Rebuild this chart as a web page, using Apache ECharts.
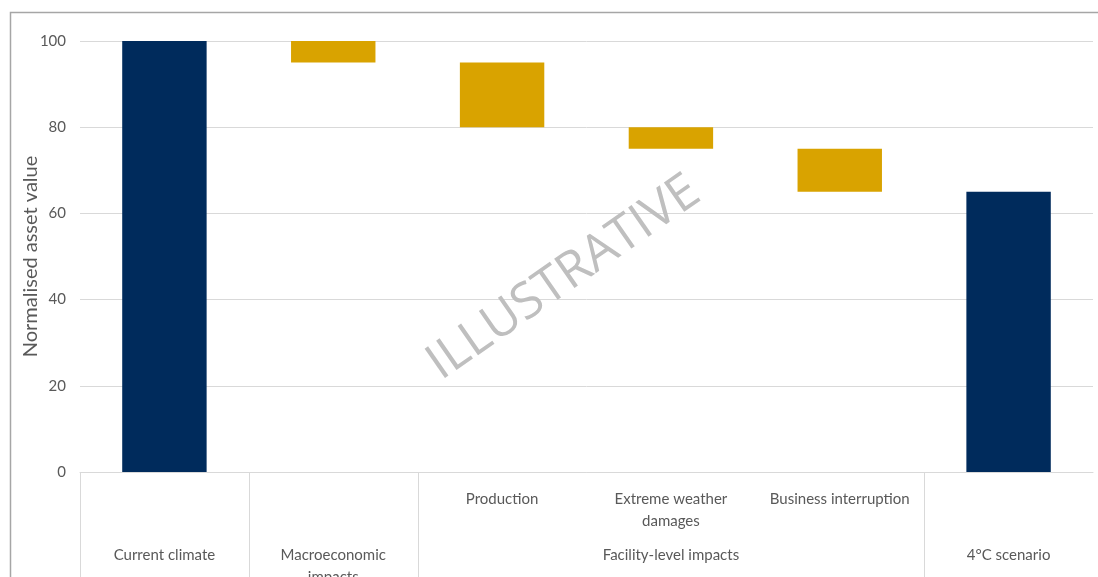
<!DOCTYPE html>
<html><head><meta charset="utf-8">
<script src="https://cdn.jsdelivr.net/npm/echarts@6/dist/echarts.min.js"></script>
<style>html,body{margin:0;padding:0;background:#fff}#c{width:1098px;height:577px}</style>
</head><body><div id="c"></div>
<script>
var categories = ['Current climate','Macroeconomic impacts','Production','Extreme weather damages','Business interruption','4°C scenario'];
var baseValues = [0, 95, 80, 75, 65, 0];
var totalValues = [100, null, null, null, null, 65];
var changeValues = [null, 5, 15, 5, 10, null];
var level1Labels = ['', '', 'Production', 'Extreme weather\ndamages', 'Business interruption', ''];
var level2Labels = ['Current climate', 'Macroeconomic\nimpacts', '', 'Facility-level impacts', '', '4°C scenario'];
var separatorIdx = [0, 1, 2, 5];
var yTicks = {min: 0, max: 100, interval: 20};
var yName = 'Normalised asset value';
var watermark = 'ILLUSTRATIVE';

var FONT = 'Lato';
var TXT = '#595959';
var chart = echarts.init(document.getElementById('c'));
var option = {
  animation: false,
  grid: {left: 80, right: 5, top: 41, bottom: 105, outerBoundsMode: 'none', containLabel: false},
  xAxis: [{
    type: 'category', data: categories,
    axisLine: {show: true, lineStyle: {color: '#D9D9D9', width: 1}},
    axisTick: {show: false},
    axisLabel: {interval: 0, margin: 16, color: TXT, fontFamily: FONT, fontSize: 15, lineHeight: 22, verticalAlign: 'top',
      formatter: function (v, i) { return level1Labels[i]; }}
  }, {
    type: 'category', data: categories, position: 'bottom',
    axisLine: {show: false}, axisTick: {show: false},
    axisLabel: {interval: 0, margin: 72, color: TXT, fontFamily: FONT, fontSize: 15, lineHeight: 22, verticalAlign: 'top',
      formatter: function (v, i) { return level2Labels[i]; }}
  }],
  yAxis: {
    type: 'value', min: yTicks.min, max: yTicks.max, interval: yTicks.interval,
    name: yName, nameLocation: 'middle', nameGap: 49, nameRotate: 90, nameMoveOverlap: false,
    nameTextStyle: {color: TXT, fontFamily: FONT, fontSize: 20, verticalAlign: 'middle'},
    axisLine: {show: false}, axisTick: {show: false},
    axisLabel: {color: TXT, fontFamily: FONT, fontSize: 15, margin: 14},
    splitLine: {lineStyle: {color: '#D9D9D9', width: 1}}
  },
  series: [
    {type: 'bar', stack: 'w', data: baseValues, barWidth: '50%', itemStyle: {color: 'transparent'}, silent: true},
    {type: 'bar', stack: 'w', data: changeValues, barWidth: '50%', itemStyle: {color: '#D9A300'}},
    {type: 'bar', stack: 'w', data: totalValues, barWidth: '50%', itemStyle: {color: '#002B5C'}}
  ]
};
chart.setOption(option);

var c0 = chart.convertToPixel({xAxisIndex: 0}, 0);
var c1 = chart.convertToPixel({xAxisIndex: 0}, 1);
var bw = c1 - c0;
var y0 = chart.convertToPixel({yAxisIndex: 0}, 0);
var graphics = [];
separatorIdx.forEach(function (i) {
  var x = Math.round(c0 + bw * i - bw / 2) + 0.5;
  graphics.push({type: 'line', shape: {x1: x, y1: y0, x2: x, y2: 600}, style: {stroke: '#D9D9D9', lineWidth: 1}, silent: true});
});
graphics.push({type: 'rect', shape: {x: 10.5, y: 12.5, width: 1200, height: 700}, style: {fill: null, stroke: '#A6A6A6', lineWidth: 1.5}, silent: true, z: -1});
graphics.push({type: 'text', x: 564, y: 278, rotation: 34.8 * Math.PI / 180,
  style: {text: watermark, fill: '#BFBFBF', font: '400 50px "Open Sans"', align: 'center', verticalAlign: 'middle'}, silent: true, z: 10});
chart.setOption({graphic: graphics});
</script></body></html>
